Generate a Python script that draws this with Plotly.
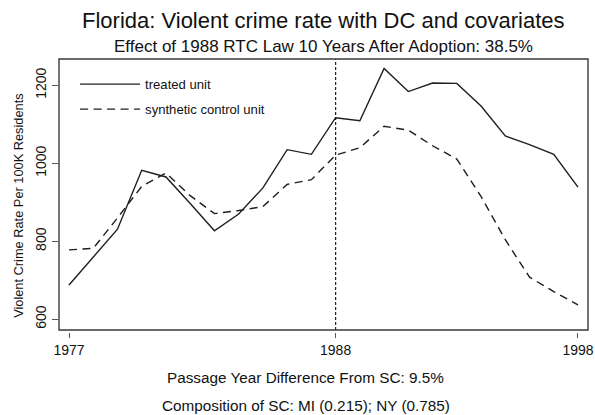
import plotly.graph_objects as go

# Florida violent crime rate vs. synthetic control, 1977-1998
years = list(range(1977, 1999))
treated = [688, 760, 831, 982, 965, 897, 827, 870, 937, 1035, 1023,
           1117, 1109, 1243, 1184, 1206, 1205, 1147, 1070, 1048, 1023, 939]
synthetic = [778, 782, 860, 941, 975, 917, 871, 879, 889, 946, 958,
             1021, 1040, 1095, 1085, 1045, 1011, 915, 804, 708, 671, 637]

law_year = 1988
x_ticks = [1977, 1988, 1998]
y_ticks = [600, 800, 1000, 1200]

title = "Florida: Violent crime rate with DC and covariates"
subtitle = "Effect of 1988 RTC Law 10 Years After Adoption: 38.5%"
note1 = "Passage Year Difference From SC: 9.5%"
note2 = "Composition of SC: MI (0.215); NY (0.785)"
y_title = "Violent Crime Rate Per 100K Residents"

FONT = "Liberation Sans, Arial, Helvetica, sans-serif"
INK = "#1e1e1e"

fig = go.Figure()
fig.add_trace(go.Scatter(
    x=years, y=treated, mode="lines", name="treated unit",
    line=dict(color=INK, width=1.4), legendgroup="a",
))
fig.add_trace(go.Scatter(
    x=years, y=synthetic, mode="lines", name="synthetic control unit",
    line=dict(color=INK, width=1.4, dash="8px,5.5px"), legendgroup="b",
))

# treatment year marker
fig.add_vline(x=law_year, line=dict(color=INK, width=1.2, dash="3px,2px"))

# plot frame
fig.add_shape(type="rect", xref="x domain", yref="y domain",
              x0=0, x1=1, y0=0, y1=1, line=dict(color="#3a3a3a", width=1.4),
              layer="above")

ann = [
    dict(text=title, x=0.5, y=1.141, size=22),
    dict(text=subtitle, x=0.5, y=1.046, size=17),
    dict(text=note1, x=0.466, y=-0.165, size=15.3),
    dict(text=note2, x=0.466, y=-0.268, size=15.3),
    dict(text=y_title, x=-0.077, y=0.463, size=12.8, angle=-90),
]
for a in ann:
    fig.add_annotation(xref="paper", yref="paper", showarrow=False,
                       xanchor="center", yanchor="middle",
                       font=dict(family=FONT, color="#111", size=a["size"]),
                       text=a["text"], x=a["x"], y=a["y"],
                       textangle=a.get("angle", 0))

fig.update_layout(
    width=595, height=415,
    margin=dict(l=59, r=7, t=59, b=83, autoexpand=False),
    paper_bgcolor="white", plot_bgcolor="white",
    font=dict(family=FONT, color="#111"),
    showlegend=True,
    legend=dict(x=0.0304, y=0.963, xanchor="left", yanchor="top",
                bgcolor="rgba(0,0,0,0)", borderwidth=0,
                font=dict(size=13.1, family=FONT, color="#111"),
                itemwidth=60, tracegroupgap=5),
    xaxis=dict(range=[1976.587, 1998.413], tickvals=x_ticks,
               anchor="free", position=0, showline=False, showgrid=False,
               zeroline=False, ticks="outside", ticklen=5, tickwidth=1,
               automargin=False,
               tickcolor="#555", tickfont=dict(size=14, family=FONT, color="#111")),
    yaxis=dict(range=[572.5, 1267.5], tickvals=y_ticks, domain=[0.0073, 1],
               showline=False, showgrid=False, zeroline=False,
               ticks="outside", ticklen=6, tickwidth=1, tickcolor="#555",
               automargin=False,
               tickangle=-90, tickfont=dict(size=14, family=FONT, color="#111")),
)

fig.write_html("out.html")
